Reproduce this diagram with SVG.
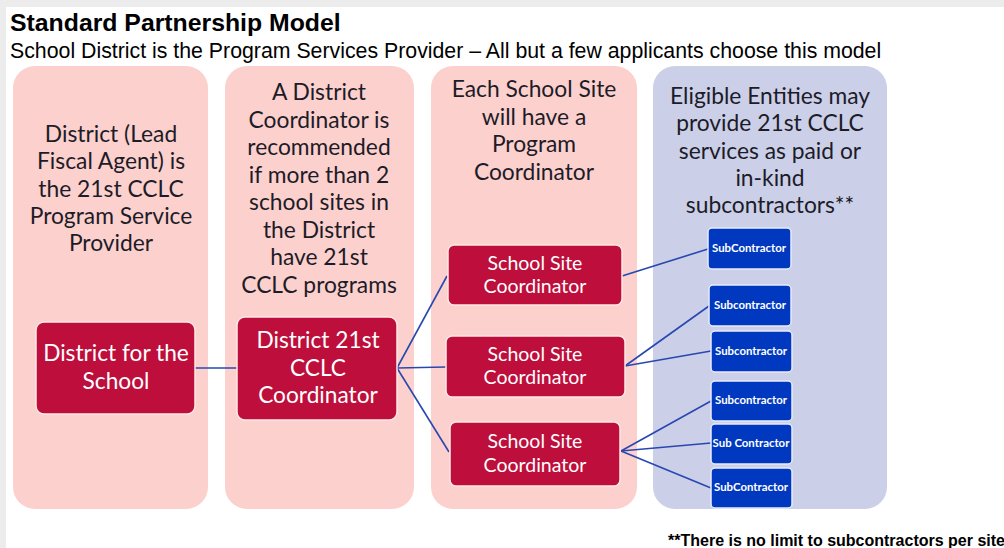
<svg xmlns="http://www.w3.org/2000/svg" width="1004" height="548" viewBox="0 0 1004 548">
<style>
.hdr{font-family:"Liberation Sans",Arial,sans-serif;fill:#000}
.pt{font-family:Lato,"Open Sans",sans-serif;font-size:22.8px;fill:#1c1c28;text-anchor:middle}
.nt{font-family:Lato,"Open Sans",sans-serif;fill:#fff;text-anchor:middle}
.pink{fill:#fcd0cd}
.blue{fill:#cbcfe8}
.red{fill:#be0e3b;stroke:#fde8e8;stroke-width:1.5}
.sub{fill:#0039c0;stroke:#e8ecfa;stroke-width:1.5}
.st{font-family:Lato,"Open Sans",sans-serif;font-size:11.4px;font-weight:bold;fill:#fff;text-anchor:middle}
.ln{stroke:#2848b0;stroke-width:1.6;fill:none}
</style>
<rect width="1004" height="548" fill="#fff"/>
<rect width="1004" height="7" fill="#ececec"/>
<rect width="6" height="548" fill="#ececec"/>
<text class="hdr" x="10" y="31" font-size="24.8" font-weight="bold">Standard Partnership Model</text>
<text class="hdr" x="10" y="58" font-size="21.3">School District is the Program Services Provider – All but a few applicants choose this model</text>

<g id="panel1"><rect class="pink" x="13" y="66" width="195" height="443" rx="22"/>
<text class="pt"><tspan x="111" y="142">District (Lead</tspan><tspan x="111" y="169">Fiscal Agent) is</tspan><tspan x="111" y="197">the 21st CCLC</tspan><tspan x="111" y="224">Program Service</tspan><tspan x="111" y="251">Provider</tspan></text></g>
<g id="panel2"><rect class="pink" x="225" y="66" width="189" height="443" rx="22"/>
<text class="pt"><tspan x="319" y="100">A District</tspan><tspan x="319" y="128">Coordinator is</tspan><tspan x="319" y="155">recommended</tspan><tspan x="319" y="183">if more than 2</tspan><tspan x="319" y="210">school sites in</tspan><tspan x="319" y="238">the District</tspan><tspan x="319" y="265">have 21st</tspan><tspan x="319" y="293">CCLC programs</tspan></text></g>
<g id="panel3"><rect class="pink" x="431" y="66" width="206" height="443" rx="22"/>
<text class="pt"><tspan x="534" y="97">Each School Site</tspan><tspan x="534" y="125">will have a</tspan><tspan x="534" y="152">Program</tspan><tspan x="534" y="180">Coordinator</tspan></text></g>
<g id="panel4"><rect class="blue" x="653" y="66" width="234" height="443" rx="22"/>
<text class="pt"><tspan x="770" y="104">Eligible Entities may</tspan><tspan x="770" y="131">provide 21st CCLC</tspan><tspan x="770" y="159">services as paid or</tspan><tspan x="770" y="186">in-kind</tspan><tspan x="770" y="213">subcontractors**</tspan></text></g>

<g id="connectors">
<line class="ln" x1="195" y1="368" x2="237" y2="368"/>
<line class="ln" x1="397" y1="368" x2="447" y2="276"/>
<line class="ln" x1="397" y1="368" x2="446" y2="367"/>
<line class="ln" x1="397" y1="368" x2="449" y2="452"/>
<line class="ln" x1="622" y1="276" x2="708" y2="249"/>
<line class="ln" x1="625" y1="366" x2="709" y2="306"/>
<line class="ln" x1="625" y1="366" x2="711" y2="351"/>
<line class="ln" x1="621" y1="451" x2="711" y2="401"/>
<line class="ln" x1="621" y1="451" x2="711" y2="443"/>
<line class="ln" x1="621" y1="451" x2="711" y2="488"/>
</g>

<g id="district-school"><rect class="red" x="36" y="322" width="159" height="92" rx="8"/>
<text class="nt" font-size="22.7"><tspan x="116" y="361">District for the</tspan><tspan x="116" y="389">School</tspan></text></g>
<g id="district-coordinator"><rect class="red" x="237" y="317" width="160" height="103" rx="8"/>
<text class="nt" font-size="22.7"><tspan x="318" y="348">District 21st</tspan><tspan x="318" y="376">CCLC</tspan><tspan x="318" y="403">Coordinator</tspan></text></g>
<g id="site1"><rect class="red" x="448" y="245" width="174" height="60" rx="6"/>
<text class="nt" font-size="19.5"><tspan x="535" y="270">School Site</tspan><tspan x="535" y="293">Coordinator</tspan></text></g>
<g id="site2"><rect class="red" x="446" y="336" width="179" height="61" rx="6"/>
<text class="nt" font-size="19.5"><tspan x="535" y="361">School Site</tspan><tspan x="535" y="384">Coordinator</tspan></text></g>
<g id="site3"><rect class="red" x="450" y="422" width="170" height="64" rx="6"/>
<text class="nt" font-size="19.5"><tspan x="535" y="448">School Site</tspan><tspan x="535" y="472">Coordinator</tspan></text></g>

<g id="sub1"><rect class="sub" x="708" y="228" width="83" height="41" rx="4"/><text class="st" x="749" y="252">SubContractor</text></g>
<g id="sub2"><rect class="sub" x="709" y="285" width="82" height="41" rx="4"/><text class="st" x="750" y="309">Subcontractor</text></g>
<g id="sub3"><rect class="sub" x="711" y="331" width="81" height="41" rx="4"/><text class="st" x="751" y="355">Subcontractor</text></g>
<g id="sub4"><rect class="sub" x="711" y="381" width="81" height="40" rx="4"/><text class="st" x="751" y="404">Subcontractor</text></g>
<g id="sub5"><rect class="sub" x="711" y="424" width="81" height="40" rx="4"/><text class="st" x="751" y="447">Sub Contractor</text></g>
<g id="sub6"><rect class="sub" x="711" y="468" width="81" height="40" rx="4"/><text class="st" x="751" y="491">SubContractor</text></g>

<text class="hdr" x="668" y="546" font-size="16" font-weight="bold">**There is no limit to subcontractors per site</text>
</svg>
